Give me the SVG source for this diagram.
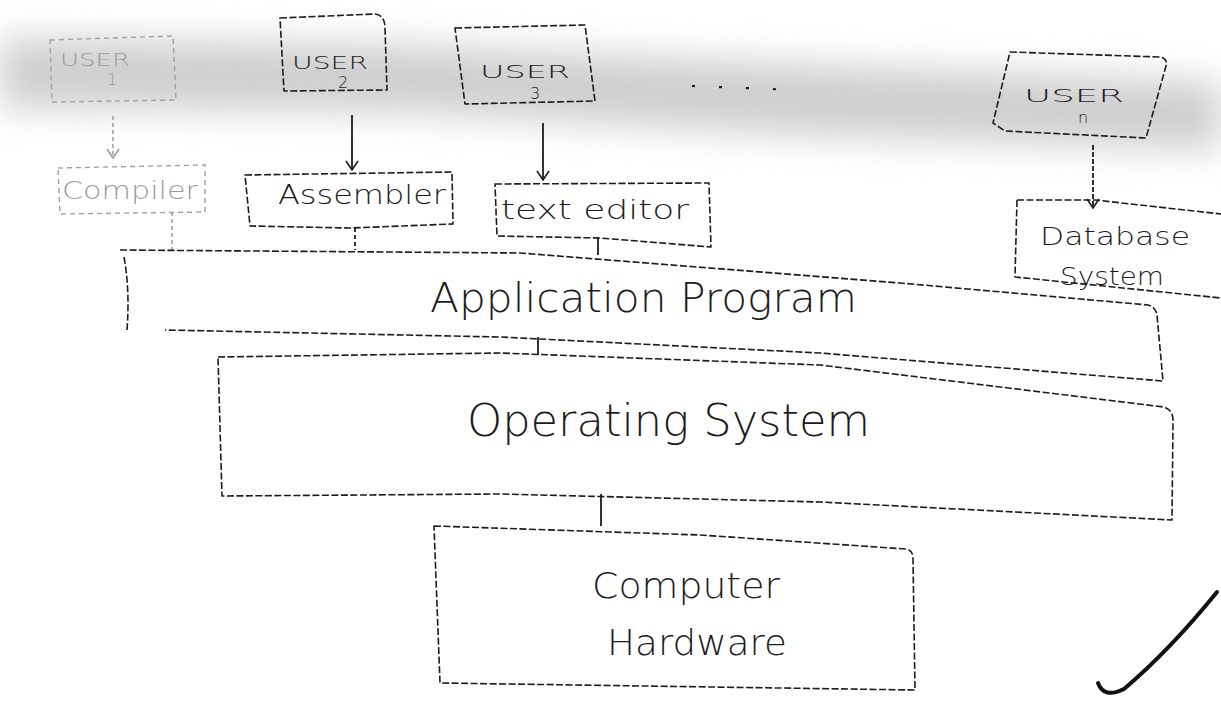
<svg xmlns="http://www.w3.org/2000/svg" width="1221" height="706" viewBox="0 0 1221 706">
<defs>
<style>
.box{fill:none;stroke:#1c1c1c;stroke-width:1.6;stroke-dasharray:7 2.5;stroke-linejoin:round}
.faint{fill:none;stroke:#a0a0a0;stroke-width:1.4;stroke-dasharray:5 4}
.conn{fill:none;stroke:#1c1c1c;stroke-width:1.8}
.fconn{fill:none;stroke:#9c9c9c;stroke-width:1.5;stroke-dasharray:4 3}
.lbl{font-family:"DejaVu Sans","Liberation Sans",sans-serif;fill:#1c1c1c;text-anchor:middle;font-weight:300}
.flbl{font-family:"DejaVu Sans","Liberation Sans",sans-serif;fill:#9a9a9a;text-anchor:middle;font-weight:300}
.hand{font-family:"DejaVu Sans","Liberation Sans",sans-serif;fill:#1c1c1c;font-weight:300}
</style>
<marker id="ah" viewBox="0 0 12 14" refX="11" refY="7" markerWidth="12" markerHeight="14" markerUnits="userSpaceOnUse" orient="auto">
<path d="M2,1 L11,7 L2,13" fill="none" stroke="#1c1c1c" stroke-width="1.6"/>
</marker>
<marker id="ahf" viewBox="0 0 12 14" refX="11" refY="7" markerWidth="12" markerHeight="14" markerUnits="userSpaceOnUse" orient="auto">
<path d="M2,1 L11,7 L2,13" fill="none" stroke="#9c9c9c" stroke-width="1.5"/>
</marker>
<filter id="blur" x="-10%" y="-50%" width="120%" height="200%">
<feGaussianBlur stdDeviation="18"/>
</filter>
</defs>
<rect width="1221" height="706" fill="#ffffff"/>
<path d="M0,38 L400,45 L800,64 L1221,82 L1221,150 L800,135 L400,112 L0,108 Z" fill="#c2c2c2" opacity="0.8" filter="url(#blur)"/>

<g id="connectors">
<path class="fconn" d="M113,116 L113,158" marker-end="url(#ahf)"/>
<path class="conn" d="M352,115 L352,170" marker-end="url(#ah)"/>
<path class="conn" d="M543,123 L543,180" marker-end="url(#ah)"/>
<path class="conn" d="M1093,145 L1093,208" stroke-dasharray="5 2" marker-end="url(#ah)"/>
<path class="fconn" d="M172,212 L172,250"/>
<path class="conn" d="M355,228 L355,250" stroke-dasharray="4 3"/>
<path class="conn" d="M598,237 L598,255"/>
<path class="conn" d="M538,337 L538,355"/>
<path class="conn" d="M601,494 L601,526"/>
</g>

<g id="user1">
<path class="faint" d="M50,40 L173,36 L176,100 L52,102 Z"/>
<text class="flbl" x="95" y="66" font-size="17" textLength="70" lengthAdjust="spacingAndGlyphs">USER</text>
<text class="flbl" x="112" y="85" font-size="16">1</text>
</g>
<g id="user2">
<path class="box" d="M280,18 L375,14 Q385,15 385,28 L387,90 L284,91 Z"/>
<text class="lbl" x="330" y="69" font-size="17" textLength="76" lengthAdjust="spacingAndGlyphs">USER</text>
<text class="lbl" x="343" y="88" font-size="16">2</text>
</g>
<g id="user3">
<path class="box" d="M455,28 L585,25 L595,101 L465,104 Z"/>
<text class="lbl" x="525" y="78" font-size="17" textLength="90" lengthAdjust="spacingAndGlyphs">USER</text>
<text class="lbl" x="535" y="99" font-size="16">3</text>
</g>
<g id="more-users">
<path d="M692,86 L795,90" fill="none" stroke="#1c1c1c" stroke-width="2.2" stroke-dasharray="3 24"/>
</g>
<g id="usern">
<path class="box" d="M1010,52 L1160,57 Q1168,59 1166,66 L1146,138 L1005,131 L993,123 Z"/>
<text class="lbl" x="1074" y="102" font-size="17" textLength="100" lengthAdjust="spacingAndGlyphs">USER</text>
<text class="lbl" x="1083" y="123" font-size="16">n</text>
</g>

<g id="compiler">
<path class="faint" d="M58,168 L205,165 L205,212 L60,214 Z"/>
<text class="flbl" x="130" y="199" font-size="24" textLength="136" lengthAdjust="spacingAndGlyphs">Compiler</text>
</g>
<g id="assembler">
<path class="box" d="M245,175 L452,172 L453,224 L350,228 L250,226 Z"/>
<text class="lbl" x="362" y="204" font-size="26" textLength="168" lengthAdjust="spacingAndGlyphs">Assembler</text>
</g>
<g id="texteditor">
<path class="box" d="M495,184 L709,183 L711,247 L600,238 L497,236 Z"/>
<text class="lbl" x="595" y="219" font-size="26" textLength="188" lengthAdjust="spacingAndGlyphs">text editor</text>
</g>
<g id="database">
<path class="box" d="M1017,200 L1095,200 L1221,214 M1017,200 L1015,277 L1221,298"/>
<text class="lbl" x="1115" y="245" font-size="24" textLength="150" lengthAdjust="spacingAndGlyphs">Database</text>
<text class="lbl" x="1112" y="285" font-size="24" textLength="104" lengthAdjust="spacingAndGlyphs">System</text>
</g>

<g id="application-program">
<path class="box" d="M120,250 L520,253 L900,283 L1148,305 Q1156,307 1157,315 L1163,381 L820,353 L500,337 L165,330"/>
<path class="box" d="M124,257 Q130,290 127,330"/>
<text class="hand" x="430" y="312" font-size="40" textLength="427" lengthAdjust="spacingAndGlyphs">Application Program</text>
</g>
<g id="operating-system">
<path class="box" d="M218,357 L500,353 L820,365 L1164,407 Q1173,410 1173,420 L1172,520 L820,502 L500,494 L222,496 Z"/>
<text class="hand" x="467" y="436" font-size="44" textLength="403" lengthAdjust="spacingAndGlyphs">Operating System</text>
</g>
<g id="computer-hardware">
<path class="box" d="M434,526 L700,535 L906,549 Q913,550 913,558 L915,690 L440,683 Z"/>
<text class="hand" x="592" y="598" font-size="36" textLength="188" lengthAdjust="spacingAndGlyphs">Computer</text>
<text class="hand" x="607" y="655" font-size="36" textLength="180" lengthAdjust="spacingAndGlyphs">Hardware</text>
</g>

<path d="M1098,683 Q1104,699 1124,689 Q1170,650 1217,592" fill="none" stroke="#111" stroke-width="4" stroke-linecap="round"/>
</svg>
